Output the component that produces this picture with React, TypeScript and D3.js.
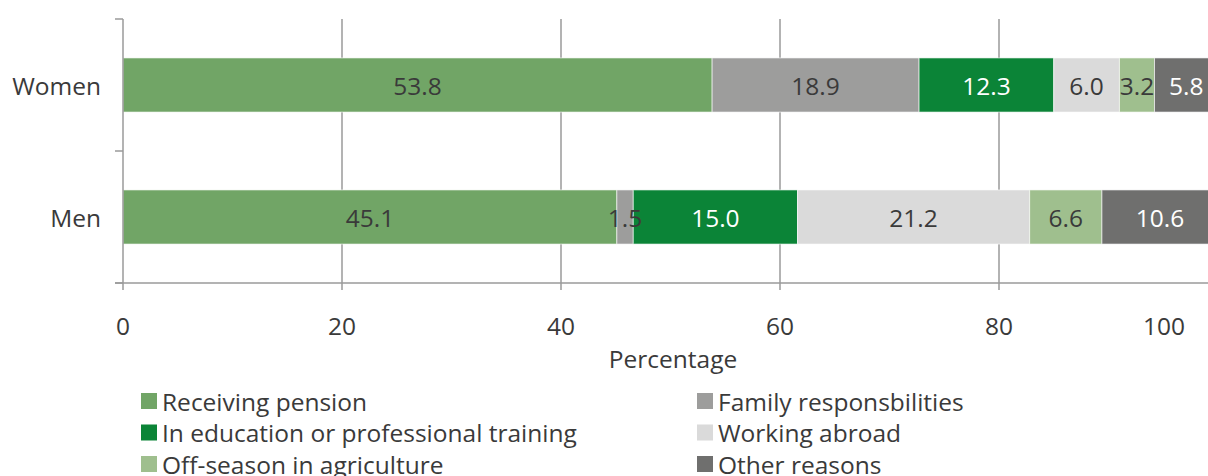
import React from "react";
import * as d3 from "d3";

const categories = ["Women", "Men"];
const seriesNames = [
  "Receiving pension",
  "Family responsbilities",
  "In education or professional training",
  "Working abroad",
  "Off-season in agriculture",
  "Other reasons",
];
const women = [53.8, 18.9, 12.3, 6.0, 3.2, 5.8];
const men = [45.1, 1.5, 15.0, 21.2, 6.6, 10.6];
const xTicks = [0, 20, 40, 60, 80, 100];
const colors = ["#71a566", "#9d9d9c", "#0b8437", "#dadada", "#9fbf8e", "#6f6f6e"];
const labelColors = ["#3a3a3a", "#3a3a3a", "#ffffff", "#3a3a3a", "#3a3a3a", "#ffffff"];

const W = 1208;
const H = 476;
const FONT = "'Open Sans', sans-serif";
const FS = 24.5;

export default function App() {
  const values = [women, men];
  const x = d3.scaleLinear().domain([0, 100]).range([123, 1218]);
  const y = d3
    .scaleBand<string>()
    .domain(categories)
    .range([19, 283])
    .paddingInner(0.59)
    .paddingOuter(0.295);
  const stacked = values.map((vals) => {
    let acc = 0;
    return vals.map((v, i) => {
      const s = acc;
      acc += v;
      return { i, v, x0: s, x1: acc };
    });
  });
  const axisColor = "#9a9a9a";
  const textColor = "#3a3a3a";
  return (
    <svg
      width={W}
      height={H}
      style={{ position: "absolute", left: 0, top: 0, fontFamily: FONT }}
    >
      {xTicks.slice(1).map((t) => (
        <line key={t} x1={x(t)} x2={x(t)} y1={19} y2={290} stroke={axisColor} strokeWidth={1.5} />
      ))}
      {categories.map((c, ci) => (
        <g key={c}>
          {stacked[ci].map((seg) => (
            <rect
              key={seg.i}
              x={x(seg.x0)}
              y={y(c)}
              width={x(seg.x1) - x(seg.x0)}
              height={y.bandwidth()}
              fill={colors[seg.i]}
              stroke="#ffffff"
              strokeOpacity={0.6}
              strokeWidth={1}
            />
          ))}
          {stacked[ci].map((seg) => (
            <text
              key={"t" + seg.i}
              x={(x(seg.x0) + x(seg.x1)) / 2}
              y={(y(c) as number) + y.bandwidth() / 2}
              textAnchor="middle"
              dominantBaseline="central"
              fontSize={FS}
              fill={labelColors[seg.i]}
            >
              {seg.v.toFixed(1)}
            </text>
          ))}
        </g>
      ))}
      <line x1={123} x2={123} y1={19} y2={290} stroke={axisColor} strokeWidth={1.5} />
      {[19, 151, 283].map((yy) => (
        <line key={yy} x1={115} x2={123} y1={yy} y2={yy} stroke={axisColor} strokeWidth={1.5} />
      ))}
      {categories.map((c) => (
        <text
          key={c}
          x={101}
          y={(y(c) as number) + y.bandwidth() / 2}
          textAnchor="end"
          dominantBaseline="central"
          fontSize={FS}
          fill={textColor}
        >
          {c}
        </text>
      ))}
      <line x1={115} x2={W} y1={283} y2={283} stroke={axisColor} strokeWidth={1.5} />
      {xTicks.map((t) => {
        const px = Math.min(x(t), 1164);
        return (
          <text
            key={t}
            x={px}
            y={325}
            textAnchor="middle"
            dominantBaseline="central"
            fontSize={FS}
            fill={textColor}
          >
            {t}
          </text>
        );
      })}
      <text x={673} y={358} textAnchor="middle" dominantBaseline="central" fontSize={FS} fill={textColor}>
        Percentage
      </text>
      {seriesNames.map((name, i) => {
        const col = i % 2;
        const row = Math.floor(i / 2);
        const lx = col === 0 ? 141 : 697;
        const ly = 401 + row * 31.5;
        return (
          <g key={name}>
            <rect x={lx} y={ly - 8} width={16} height={16} fill={colors[i]} />
            <text x={lx + 21} y={ly} dominantBaseline="central" fontSize={FS} fill={textColor}>
              {name}
            </text>
          </g>
        );
      })}
    </svg>
  );
}
